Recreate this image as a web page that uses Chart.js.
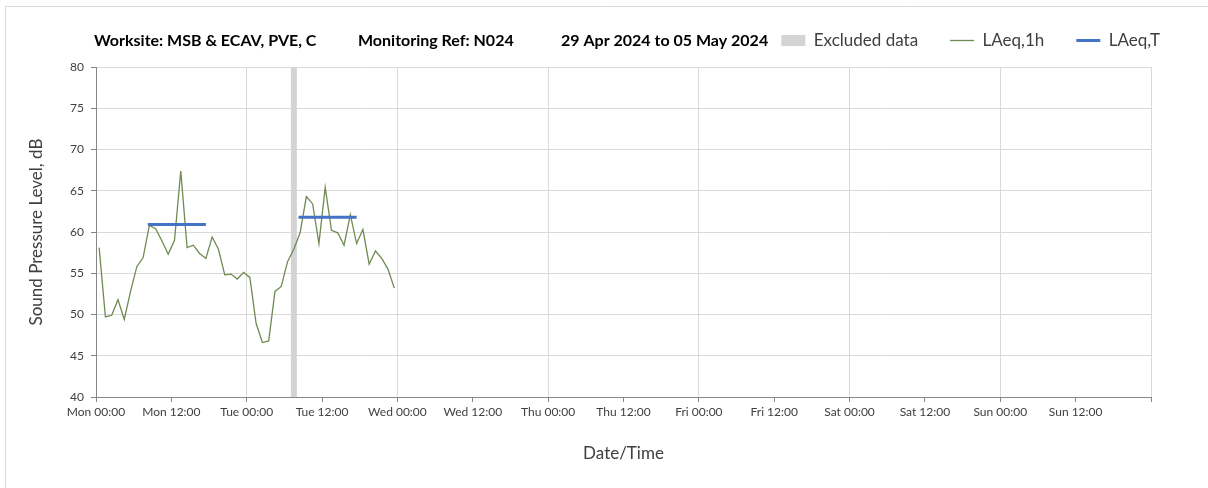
<!DOCTYPE html>
<html>
<head>
<meta charset="utf-8">
<script src="https://cdn.jsdelivr.net/npm/chart.js@4.4.1/dist/chart.umd.min.js"></script>
<style>
  html, body { margin: 0; padding: 0; background: #ffffff; }
  #wrap { width: 1208px; height: 488px; position: relative; }
</style>
</head>
<body>
<div id="wrap"><canvas id="c" width="1208" height="488"></canvas></div>
<script>
// ---- Data (hours since Mon 00:00) ----
const titleParts = ['Worksite: MSB & ECAV, PVE, C', 'Monitoring Ref: N024', '29 Apr 2024 to 05 May 2024'];
const tickLabels = ['Mon 00:00', 'Mon 12:00', 'Tue 00:00', 'Tue 12:00', 'Wed 00:00', 'Wed 12:00',
  'Thu 00:00', 'Thu 12:00', 'Fri 00:00', 'Fri 12:00', 'Sat 00:00', 'Sat 12:00', 'Sun 00:00', 'Sun 12:00'];
const hourTimes = [0.5, 1.5, 2.5, 3.5, 4.5, 5.5, 6.5, 7.5, 8.5, 9.5, 10.5, 11.5,
  12.5, 13.5, 14.5, 15.5, 16.5, 17.5, 18.5, 19.5, 20.5, 21.5, 22.5, 23.5,
  24.5, 25.5, 26.5, 27.5, 28.5, 29.5, 30.5, 31.5, 32.5, 33.5, 34.5, 35.5,
  36.5, 37.5, 38.5, 39.5, 40.5, 41.5, 42.5, 43.5, 44.5, 45.5, 46.5, 47.5];
const laeq1h = [58.1, 49.7, 49.9, 51.8, 49.4, 52.8, 55.8, 56.9, 60.8, 60.4, 58.9, 57.3,
  59.0, 67.4, 58.1, 58.4, 57.4, 56.8, 59.4, 57.9, 54.8, 54.9, 54.3, 55.1,
  54.5, 48.9, 46.6, 46.8, 52.8, 53.4, 56.4, 57.9, 59.9, 64.3, 63.4, 58.6,
  65.4, 60.2, 59.9, 58.4, 62.1, 58.6, 60.3, 56.1, 57.7, 56.8, 55.5, 53.2];
const laeqTStart = [8.25, 32.25];
const laeqTEnd = [17.5, 41.5];
const laeqTValue = [60.9, 61.8];
const excludedStart = [31];
const excludedEnd = [32];

// ---- Build datasets ----
const lineData = hourTimes.map((t, i) => ({ x: t, y: laeq1h[i] }));
const tData = [];
laeqTStart.forEach((s, i) => {
  if (i > 0) tData.push({ x: (laeqTEnd[i - 1] + s) / 2, y: null });
  tData.push({ x: s, y: laeqTValue[i] });
  tData.push({ x: laeqTEnd[i], y: laeqTValue[i] });
});
const exData = [];
excludedStart.forEach((s, i) => {
  if (i > 0) exData.push({ x: (excludedEnd[i - 1] + s) / 2, y: null });
  exData.push({ x: s, y: 80 });
  exData.push({ x: excludedEnd[i], y: 80 });
});

const FONT = 'Lato';
const GRID = '#d9d9d9';
const AXIS = '#868686';

const framePlugin = {
  id: 'frame',
  beforeDraw(chart) {
    const ctx = chart.ctx;
    ctx.save();
    ctx.fillStyle = '#ffffff';
    ctx.fillRect(0, 0, chart.width, chart.height);
    ctx.strokeStyle = '#d9d9d9';
    ctx.lineWidth = 1;
    ctx.beginPath();
    ctx.moveTo(5.5, chart.height);
    ctx.lineTo(5.5, 6.5);
    ctx.lineTo(chart.width, 6.5);
    ctx.stroke();
    ctx.restore();
  },
  afterDraw(chart) {
    const ctx = chart.ctx;
    ctx.save();
    ctx.font = 'bold 16px ' + FONT;
    ctx.fillStyle = '#000000';
    ctx.textBaseline = 'middle';
    ctx.textAlign = 'left';
    const xs = [94, 358, 561];
    titleParts.forEach((t, i) => ctx.fillText(t, xs[i], 41));
    ctx.restore();
  }
};

new Chart(document.getElementById('c'), {
  type: 'line',
  data: {
    datasets: [
      {
        label: 'Excluded data',
        data: exData,
        backgroundColor: '#d4d4d4',
        borderColor: '#d4d4d4',
        borderWidth: 0,
        pointRadius: 0,
        fill: 'start',
        spanGaps: false,
        order: 3
      },
      {
        label: 'LAeq,1h',
        data: lineData,
        borderColor: '#6f8a52',
        backgroundColor: '#6f8a52',
        borderWidth: 1.3,
        pointRadius: 0,
        tension: 0,
        fill: false,
        order: 2
      },
      {
        label: 'LAeq,T',
        data: tData,
        borderColor: '#4472c4',
        backgroundColor: '#4472c4',
        borderWidth: 3,
        borderCapStyle: 'butt',
        pointRadius: 0,
        spanGaps: false,
        fill: false,
        order: 1
      }
    ]
  },
  options: {
    responsive: false,
    animation: false,
    devicePixelRatio: 1,
    layout: { padding: { top: 0, left: 0, right: 16, bottom: 0 } },
    plugins: {
      title: { display: false },
      subtitle: {
        display: true,
        text: '',
        weight: 500,
        font: { size: 1, lineHeight: 1 },
        padding: { top: 0, bottom: 7 }
      },
      tooltip: { enabled: false },
      legend: {
        display: true,
        position: 'top',
        align: 'end',
        labels: {
          font: { family: FONT, size: 17 },
          color: '#404040',
          usePointStyle: true,
          pointStyleWidth: 24,
          boxHeight: 11,
          padding: 32,
          generateLabels(chart) {
            return chart.data.datasets.map((ds, i) => ({
              text: ds.label,
              datasetIndex: i,
              fillStyle: i === 0 ? '#d4d4d4' : ds.borderColor,
              strokeStyle: ds.borderColor,
              lineWidth: i === 0 ? 0 : (i === 1 ? 1.3 : 3),
              pointStyle: i === 0 ? 'rect' : 'line',
              hidden: false,
              fontColor: '#404040'
            }));
          }
        }
      }
    },
    scales: {
      x: {
        type: 'linear',
        min: 0,
        max: 168,
        afterFit(s) { s.height = 91; s.paddingLeft = 0; s.paddingRight = 57; },
        ticks: {
          stepSize: 12,
          autoSkip: false,
          maxRotation: 0,
          minRotation: 0,
          padding: 3,
          color: '#404040',
          font: { family: FONT, size: 12 },
          callback: (v) => tickLabels[Math.round(v / 12)] || ''
        },
        grid: {
          color: (c) => (c.tick && c.tick.value % 24 === 0) ? GRID : 'rgba(0,0,0,0)',
          lineWidth: 1,
          tickColor: AXIS,
          tickLength: 5,
          drawTicks: true
        },
        border: { color: AXIS, width: 1 },
        title: {
          display: true,
          text: 'Date/Time',
          color: '#404040',
          font: { family: FONT, size: 17 },
          padding: { top: 0, bottom: 24 }
        }
      },
      y: {
        min: 40,
        max: 80,
        afterFit(s) { s.width = 96; s.paddingTop = 67; },
        ticks: {
          stepSize: 5,
          padding: 7,
          color: '#404040',
          font: { family: FONT, size: 12 }
        },
        grid: {
          color: GRID,
          lineWidth: 1,
          tickColor: AXIS,
          tickLength: 5
        },
        border: { color: AXIS, width: 1 },
        title: {
          display: true,
          text: 'Sound Pressure Level, dB',
          color: '#404040',
          font: { family: FONT, size: 17 },
          padding: { top: 26, bottom: 0 }
        }
      }
    }
  },
  plugins: [framePlugin]
});
</script>
</body>
</html>
